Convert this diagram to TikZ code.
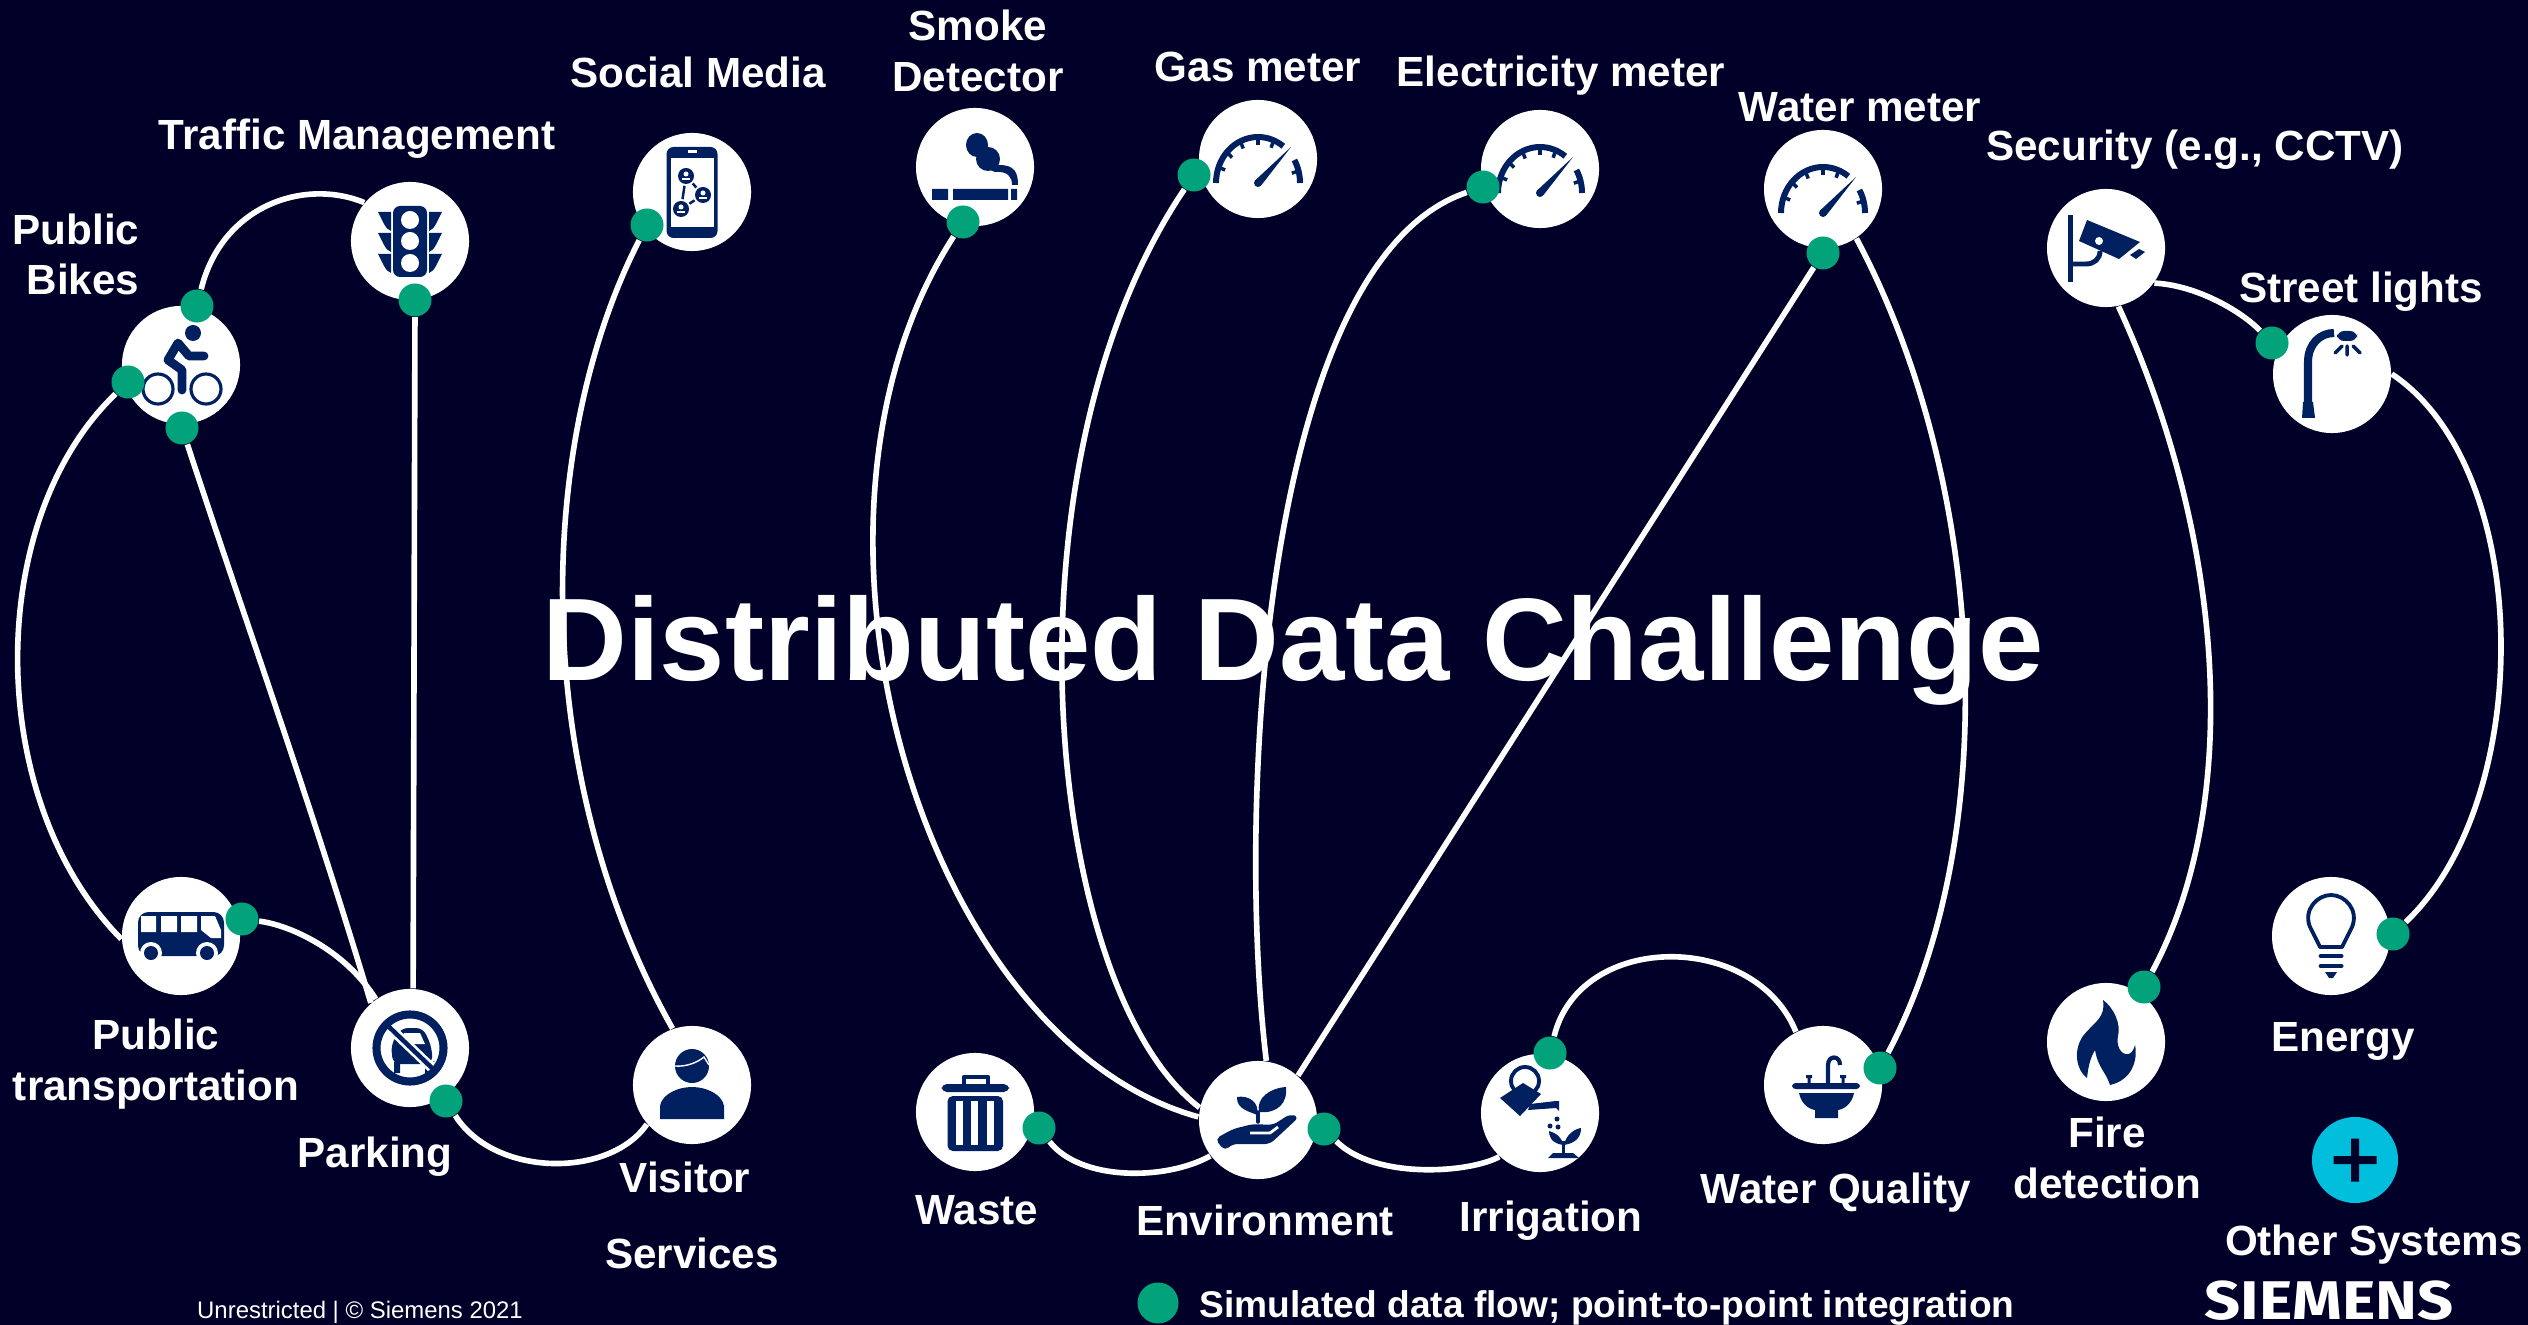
\documentclass[tikz,border=0pt]{standalone}
\usepackage{fontspec}
\setmainfont{Liberation Sans}
\newfontfamily\logofont[FakeStretch=1.16]{Fira Sans}
\usetikzlibrary{backgrounds}

\definecolor{deepnavy}{HTML}{000028}
\definecolor{iconblue}{HTML}{002060}
\definecolor{dotgreen}{HTML}{02A27A}
\definecolor{pluscyan}{HTML}{00BEDC}

\tikzset{
	sys/.style={circle, fill=white, minimum size=1.18cm, inner sep=0pt},
	dot/.style={circle, fill=dotgreen, minimum size=0.33cm, inner sep=0pt},
	flow/.style={white, line width=1.6pt},
	lbl/.style={text=white, inner sep=0pt, align=center, anchor=base, font=\bfseries\fontsize{12}{14.5}\selectfont},
	icon/.style={fill=iconblue, draw=none},
	iconline/.style={draw=iconblue, fill=none, line cap=round, line join=round},
	bikeicon/.pic={
		\fill[icon] (12,-32) circle[radius=8];
		\draw[iconline, line width=2.5pt] (1,25) -- (1,5) -- (-13,-5) -- (-3,-22) -- (8,-9) -- (23,-9);
		\draw[iconline, line width=0.9pt] (-23,24) circle[radius=15] (25,24) circle[radius=15];
	},
	lighticon/.pic={
		\fill[icon, rounded corners=2pt] (-17,-35) rectangle (17,36);
		\foreach \y in {-21,0,22} {\fill[white] (0,\y) circle[radius=9];}
		\foreach \y in {-29,-8,13} {
			\fill[icon] (-32,\y) -- (-19,\y) -- (-19,\y+19) .. controls (-25,\y+17) and (-27,\y+9) .. cycle;
			\fill[icon] (32,\y) -- (19,\y) -- (19,\y+19) .. controls (25,\y+17) and (27,\y+9) .. cycle;
		}
	},
	phoneicon/.pic={
		\fill[icon, rounded corners=2pt] (-25.5,-45) rectangle (25.5,46);
		\fill[white] (-21.5,-34) rectangle (22,35);
		\fill[white] (-4.5,-41.5) rectangle (4.5,-38.5);
		\draw[iconline, line width=0.7pt] (-6,-16) -- (11,3) -- (-11,17) -- cycle;
		\foreach \a/\b in {-6/-16, 11/3, -11/17} {
			\fill[white] (\a,\b) circle[radius=10];
			\fill[icon] (\a,\b) circle[radius=8];
			\fill[white] (\a,\b-2) circle[radius=2.5];
			\fill[white] (\a-4,\b+4) rectangle (\a+4,\b+2);
		}
	},
	smokeicon/.pic={
		\fill[icon] (-43,22) rectangle (-27,33) (-22,22) rectangle (33,33) (36,22) rectangle (42,33);
		\fill[icon] (2,-22) ellipse[x radius=11, y radius=12] (13,-8) circle[radius=12];
		\fill[icon] (5,-12) -- (24,-2) .. controls (40,-2) and (43,6) .. (43,18) -- (37,18) .. controls (37,10) and (33,4) .. (20,5) -- (8,0) -- cycle;
	},
	gaugeicon/.pic={
		\begin{scope}[shift={(0,24)}]
			\draw[iconline, line cap=butt, line width=1.7pt] (-42,0) arc[start angle=180, end angle=307, x radius=42, y radius=46];
			\draw[iconline, line cap=butt, line width=1.7pt] (330:42 and 46) arc[start angle=330, end angle=360, x radius=42, y radius=46];
			\foreach \a in {200,222,245,270,292,345} {
				\draw[iconline, line cap=butt, line width=1pt] (\a:40 and 44) -- (\a:35 and 38);
			}
			\fill[icon] (0,0) circle[radius=4];
			\fill[icon] (33,-36) -- (3.5,2) -- (-3.5,-2) -- cycle;
		\end{scope}
	},
	cameraicon/.pic={
		\fill[icon] (-38,-33) rectangle (-33,34);
		\fill[icon] (-19,-28) -- (34,-6) -- (13,11) -- (-27,-7) -- cycle;
		\fill[white] (-7,-7) circle[radius=4];
		\fill[icon] (33,1) -- (39,4) -- (30,11) -- (24,7) -- cycle;
		\draw[iconline, line cap=butt, line width=1.4pt] (-35,16) -- (-20,16) .. controls (-12,16) and (-6,11) .. (-6,3);
	},
	lampicon/.pic={
		\fill[icon] (-29,28) -- (-19,28) -- (-17,44) -- (-30,44) -- cycle;
		\draw[iconline, line cap=butt, line width=2.3pt] (-24,30) -- (-24,-12) .. controls (-24,-30) and (-12,-41) .. (2,-41);
		\fill[icon, rounded corners=2pt] (5,-43) rectangle (25,-33);
		\draw[iconline, line width=1pt] (15,-28) -- (15,-19) (10,-28) -- (3,-21) (21,-28) -- (28,-21);
	},
	busicon/.pic={
		\fill[icon, rounded corners=3pt] (-43,-24) rectangle (43,20);
		\fill[white] (-40,-20) rectangle (-25,-4) (-20,-20) rectangle (-4,-4) (0,-20) rectangle (16,-4);
		\fill[white] (20,-20) -- (34,-20) -- (40,-6) -- (40,2) -- (30,2) -- (20,-6) -- cycle;
		\foreach \a in {-30,26} {
			\fill[white] (\a,17) circle[radius=11];
			\fill[icon] (\a,17) circle[radius=7];
		}
	},
	parkingicon/.pic={
		\fill[icon, rounded corners=2pt] (-9,-20) -- (13,-20) -- (21,-3) -- (23,14) -- (19,16) -- (-17,16) -- (-19,-3) -- cycle;
		\fill[icon] (-16,14) rectangle (-10,25) (15,14) rectangle (21,25);
		\fill[white] (-6,-15) -- (10,-15) -- (15,-4) -- (-11,-4) -- cycle;
		\draw[white, line width=2.8pt] (-22,-22) -- (24,22);
		\draw[iconblue, line width=1.3pt] (-24,-24) -- (24,22);
		\draw[iconline, line width=2.3pt] (0,0) circle[radius=33.5];
	},
	visitoricon/.pic={
		\fill[icon] (0,-19) circle[radius=17];
		\draw[white, line width=0.4pt] (-17,-19) .. controls (-5,-18) and (6,-23) .. (12,-28) -- (17,-20);
		\fill[icon] (-32,34) -- (-32,21) .. controls (-30,9) and (-14,2) .. (0,2) .. controls (14,2) and (30,9) .. (32,21) -- (32,34) -- cycle;
	},
	wasteicon/.pic={
		\draw[iconline, line cap=butt, line width=1.2pt] (-11,-25) -- (-11,-35) -- (13,-35) -- (13,-25);
		\fill[icon, rounded corners=1.5pt] (-33.5,-28) rectangle (34,-20);
		\fill[icon, rounded corners=1.5pt] (-27.5,-16) rectangle (28,39);
		\foreach \a in {-19,-4,12} {\fill[white] (\a,-11) rectangle (\a+7,33);}
	},
	envicon/.pic={
		\draw[iconline, line width=1pt] (0,2) -- (0,-8);
		\fill[icon] (-1,-5) .. controls (-6,-8) and (-22,-10) .. (-21,-23) .. controls (-10,-25) and (2,-18) .. cycle;
		\fill[icon] (1,-8) .. controls (-2,-22) and (12,-32) .. (28,-33) .. controls (30,-18) and (20,-6) .. cycle;
		\fill[icon, rounded corners=1.5pt] (-43,19) -- (-25,9) -- (-5,4) -- (15,5) -- (32,-6) -- (41,-3) -- (12,24) -- (-26,24) -- (-33,31) -- cycle;
		\draw[white, line width=0.8pt] (-8,13) -- (12,13) -- (20,7);
	},
	wateringicon/.pic={
		\draw[iconline, line width=1.1pt] (-15,-32) circle[radius=14];
		\fill[icon] (-17,-30) -- (1,-19) -- (-20,3) -- (-40,-15) -- cycle;
		\fill[icon] (-10,-9) -- (16,-12) -- (19,-12) -- (19,-2) -- (16,-5) -- (-12,-3) -- cycle;
		\foreach \a/\b in {17/6, 10/13, 18/14} {\fill[icon] (\a,\b) circle[radius=2.5];}
		\fill[icon] (23,32) .. controls (10,30) and (9,22) .. (9,18) .. controls (16,20) and (22,24) .. cycle;
		\fill[icon] (24,32) .. controls (26,22) and (34,16) .. (41,15) .. controls (41,24) and (36,30) .. cycle;
		\fill[icon] (22,28) rectangle (25,40);
		\fill[icon] (8,45) -- (13,40) -- (33,40) -- (39,45) -- cycle;
	},
	sinkicon/.pic={
		\fill[icon, rounded corners=1pt] (-31,-2) rectangle (37,4);
		\fill[icon] (-24,8) -- (31,8) .. controls (29,18) and (22,24) .. (15,25) -- (15,33) -- (-8,33) -- (-8,25) .. controls (-15,24) and (-22,18) .. cycle;
		\draw[iconline, line cap=butt, line width=1.2pt] (5,-2) -- (5,-20) .. controls (5,-30) and (17,-30) .. (17,-20);
		\fill[icon] (-17,-10) rectangle (-11,-7) (-15.5,-7) rectangle (-12.5,-2);
		\fill[icon] (17,-10) rectangle (23,-7) (18.5,-7) rectangle (21.5,-2);
	},
	flameicon/.pic={
		\fill[icon] (-3,-42) .. controls (8,-34) and (15,-18) .. (12,-6) .. controls (10,2) and (14,14) .. (23,12) .. controls (27,10) and (28,6) .. (29,3) .. controls (32,18) and (26,38) .. (4,43) .. controls (0,30) and (-8,26) .. (-11,8) .. controls (-16,16) and (-18,26) .. (-19,36) .. controls (-30,28) and (-33,8) .. (-23,-6) .. controls (-12,-20) and (0,-24) .. cycle;
	},
	bulbicon/.pic={
		\draw[iconline, line cap=butt, line width=1.1pt] (-11,11) -- (-21,-9) .. controls (-28,-26) and (-14,-41) .. (0,-41) .. controls (14,-41) and (28,-26) .. (21,-9) -- (11,11) -- cycle;
		\draw[iconline, line width=1.4pt] (-10,20) -- (10,20) (-10,30) -- (10,30);
		\fill[icon] (-6,36) -- (6,36) -- (2,42) -- (-2,42) -- cycle;
	},
	plusicon/.pic={
		\fill[deepnavy] (-21.5,-4) rectangle (21.5,4) (-4,-21.5) rectangle (4,21.5);
	},
}

\begin{document}
\begin{tikzpicture}[x=0.01cm, y=-0.01cm]
	\useasboundingbox (0,0) rectangle (2528,1325);

	\node[sys] (bikes) at (181,365) {};
	\node[sys] (traffic) at (410,241) {};
	\node[sys] (social) at (692,192) {};
	\node[sys] (smoke) at (975,167) {};
	\node[sys] (gas) at (1258,159) {};
	\node[sys] (elec) at (1540,169) {};
	\node[sys] (water) at (1823,189) {};
	\node[sys] (security) at (2106,248) {};
	\node[sys] (street) at (2332,374) {};
	\node[sys] (bus) at (181,936) {};
	\node[sys] (parking) at (410,1048) {};
	\node[sys] (visitor) at (692,1085) {};
	\node[sys] (waste) at (975,1112) {};
	\node[sys] (env) at (1258,1120) {};
	\node[sys] (irrigation) at (1540,1113) {};
	\node[sys] (quality) at (1823,1085) {};
	\node[sys] (fire) at (2106,1042) {};
	\node[sys] (energy) at (2331,936) {};
	\node[circle, fill=pluscyan, minimum size=0.86cm, inner sep=0pt] (other) at (2355,1160) {};

	\pic at (bikes) {bikeicon};
	\pic at (traffic) {lighticon};
	\pic at (social) {phoneicon};
	\pic at (smoke) {smokeicon};
	\pic at (gas) {gaugeicon};
	\pic at (elec) {gaugeicon};
	\pic at (water) {gaugeicon};
	\pic at (security) {cameraicon};
	\pic at (street) {lampicon};
	\pic at (bus) {busicon};
	\pic at (parking) {parkingicon};
	\pic at (visitor) {visitoricon};
	\pic at (waste) {wasteicon};
	\pic at (env) {envicon};
	\pic at (irrigation) {wateringicon};
	\pic at (quality) {sinkicon};
	\pic at (fire) {flameicon};
	\pic at (energy) {bulbicon};
	\pic at (other) {plusicon};

	\node[dot] (bikesT) at (197,306) {};
	\node[dot] (bikesL) at (128,382) {};
	\node[dot] (bikesB) at (182,428) {};
	\node[dot] (trafficD) at (415,300) {};
	\node[dot] (socialD) at (647,225) {};
	\node[dot] (smokeD) at (963,222) {};
	\node[dot] (gasD) at (1194,175) {};
	\node[dot] (elecD) at (1483,187) {};
	\node[dot] (waterD) at (1823,253) {};
	\node[dot] (streetD) at (2272,343) {};
	\node[dot] (busD) at (242,919) {};
	\node[dot] (parkingD) at (446,1101) {};
	\node[dot] (wasteD) at (1039,1128) {};
	\node[dot] (envD) at (1324,1129) {};
	\node[dot] (irrigationD) at (1550,1053) {};
	\node[dot] (qualityD) at (1880,1068) {};
	\node[dot] (fireD) at (2144,987) {};
	\node[dot] (energyD) at (2393,934) {};
	\node[dot, minimum size=0.41cm] (legendD) at (1158,1303) {};

	\begin{pgfonlayer}{background}
		\fill[deepnavy] (0,0) rectangle (2528,1325);
		\draw[flow] (bikesL) .. controls (-16,520) and (-16,800) .. (bus.183);
		\draw[flow] (bikesT) .. controls (222,205) and (305,178) .. (traffic.140);
		\draw[flow] (bikesB) .. controls (245,620) and (310,800) .. (parking.131);
		\draw[flow] (trafficD) -- (parking.87);
		\draw[flow] (busD) .. controls (290,925) and (345,950) .. (parking.125);
		\draw[flow] (parkingD) .. controls (495,1178) and (610,1178) .. (visitor.221);
		\draw[flow] (socialD) .. controls (532,450) and (532,780) .. (visitor.109);
		\draw[flow] (smokeD) .. controls (770,520) and (920,1040) .. (env.177);
		\draw[flow] (gasD) .. controls (995,470) and (1045,990) .. (env.168);
		\draw[flow] (elecD) .. controls (1265,260) and (1235,800) .. (env.82);
		\draw[flow] (waterD) -- (env.48);
		\draw[flow] (water.-56) .. controls (1985,480) and (2005,830) .. (qualityD);
		\draw[flow] (wasteD) .. controls (1080,1181) and (1165,1181) .. (env.217);
		\draw[flow] (envD) .. controls (1375,1180) and (1470,1173) .. (irrigation.227);
		\draw[flow] (irrigationD) .. controls (1580,931) and (1755,931) .. (quality.117);
		\draw[flow] (security.-36) .. controls (2195,285) and (2240,310) .. (streetD);
		\draw[flow] (security.-78) .. controls (2217,520) and (2249,790) .. (fireD);
		\draw[flow] (street.0) .. controls (2535,470) and (2535,800) .. (energyD);
	\end{pgfonlayer}

	\node[lbl, align=right, anchor=base east] (bikesL1) at (140,295) {Public\\Bikes};
	\node[lbl] (trafficL) at (357,150) {Traffic Management};
	\node[lbl] (socialL) at (698,88) {Social Media};
	\node[lbl] (smokeL) at (978,92) {Smoke\\Detector};
	\node[lbl] (gasL) at (1258,82) {Gas meter};
	\node[lbl] (elecL) at (1561,87) {Electricity meter};
	\node[lbl] (waterL) at (1860,122) {Water meter};
	\node[lbl] (securityL) at (2195,161) {Security (e.g., CCTV)};
	\node[lbl] (streetL) at (2361,303) {Street lights};
	\node[lbl] (busL) at (156,1100) {Public\\transportation};
	\node[lbl] (parkingL) at (375,1167) {Parking};
	\node[lbl] (visitorL) at (685,1192) {Visitor};
	\node[lbl] (servicesL) at (692,1268) {Services};
	\node[lbl] (wasteL) at (977,1224) {Waste};
	\node[lbl] (envL) at (1265,1235) {Environment};
	\node[lbl] (irrigationL) at (1551,1231) {Irrigation};
	\node[lbl] (qualityL) at (1836,1203) {Water Quality};
	\node[lbl] (fireL) at (2107,1198) {Fire\\detection};
	\node[lbl] (energyL) at (2343,1051) {Energy};
	\node[lbl] (otherL) at (2374,1255) {Other Systems};

	\node[lbl, font=\bfseries\fontsize{10.56}{12}\selectfont, anchor=base west] (legendL) at (1199,1317) {Simulated data flow; point-to-point integration};
	\node[lbl, font=\fontsize{6.8}{8}\selectfont] (footL) at (360,1318) {Unrestricted | © Siemens 2021};
	\node[lbl, font=\logofont\bfseries\fontsize{15.5}{18}\selectfont] (logoL) at (2329,1319) {SIEMENS};
	\node[lbl, font=\bfseries\fontsize{33.4}{38}\selectfont] (title) at (1293,680) {Distributed Data Challenge};
\end{tikzpicture}
\end{document}
